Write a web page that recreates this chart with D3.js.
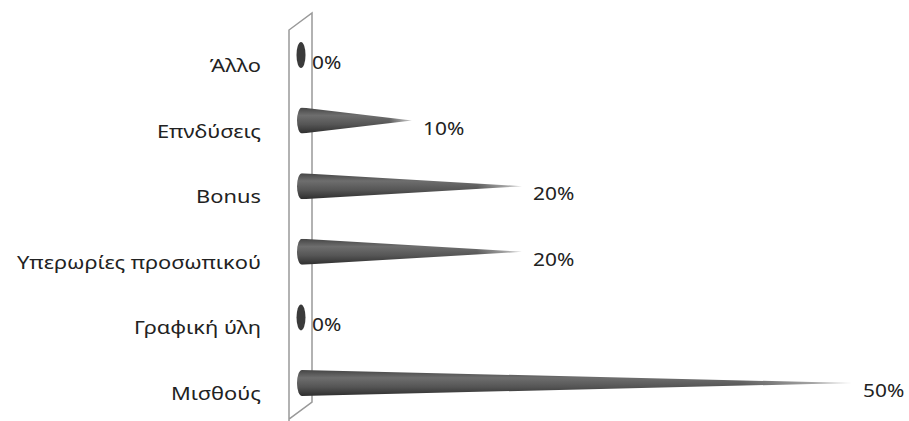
<!DOCTYPE html>
<html>
<head>
<meta charset="utf-8">
<script src="https://cdn.jsdelivr.net/npm/d3@7"></script>
<style>
  html, body { margin: 0; padding: 0; background: #fff; }
  text { font-family: "Noto Sans", "Open Sans", sans-serif; fill: #222; }
</style>
</head>
<body>
<svg id="chart"></svg>
<script>
// data, top to bottom as drawn
var categories = ["Άλλο", "Επνδύσεις", "Bonus", "Υπερωρίες προσωπικού", "Γραφική ύλη", "Μισθούς"];
var values = [0, 10, 20, 20, 0, 50];
var valueLabels = ["0%", "10%", "20%", "20%", "0%", "50%"];

var width = 909, height = 421;
var svg = d3.select("#chart").attr("width", width).attr("height", height);

var data = categories.map(function(c, i) { return {cat: c, v: values[i], label: valueLabels[i]}; });

// scales
var x = d3.scaleLinear().domain([0, 50]).range([302, 852]);
var y = d3.scalePoint().domain(categories).range([55, 383]);
var step = y.step();

var defs = svg.append("defs");

// vertical shading of the cones
var grad = defs.append("linearGradient")
    .attr("id", "coneGrad")
    .attr("x1", 0).attr("y1", 0).attr("x2", 0).attr("y2", 1);
grad.append("stop").attr("offset", "0%").attr("stop-color", "#454545");
grad.append("stop").attr("offset", "30%").attr("stop-color", "#6e6e6e");
grad.append("stop").attr("offset", "65%").attr("stop-color", "#555");
grad.append("stop").attr("offset", "100%").attr("stop-color", "#2e2e2e");

// fade toward the tip
var fade = defs.append("linearGradient")
    .attr("id", "fadeGrad")
    .attr("x1", 0).attr("y1", 0).attr("x2", 1).attr("y2", 0);
fade.append("stop").attr("offset", "0%").attr("stop-color", "#fff");
fade.append("stop").attr("offset", "80%").attr("stop-color", "#fff");
fade.append("stop").attr("offset", "100%").attr("stop-color", "#555");
defs.append("mask")
    .attr("id", "fadeMask")
    .attr("maskContentUnits", "objectBoundingBox")
  .append("rect")
    .attr("width", 1).attr("height", 1)
    .style("fill", "url(#fadeGrad)");

// back wall (3D frame)
var dx = 23, dy = 17;
var backX = x(0) + 10, frontX = backX - dx;
var backTop = y(categories[0]) - step * 0.64, backBot = y(categories[categories.length - 1]) + step * 0.29;
var wall = svg.append("g")
    .style("fill", "none")
    .style("stroke", "#999")
    .style("stroke-width", 1.5);
wall.append("path")
    .attr("d", "M" + frontX + "," + (backBot + dy + 4) + "V" + (backTop + dy) + "L" + backX + "," + backTop + "V" + backBot + "L" + frontX + "," + (backBot + dy));

// cones
var ry = 13, rx = 5;
var rows = svg.selectAll(".row")
    .data(data)
    .enter().append("g")
    .attr("class", "row");

rows.filter(function(d) { return d.v > 0; })
  .append("path")
    .attr("mask", "url(#fadeMask)")
    .style("fill", "url(#coneGrad)")
    .attr("d", function(d) {
      var cy = y(d.cat), bx = x(0);
      return "M" + x(d.v) + "," + cy +
             "L" + bx + "," + (cy - ry) +
             "A" + rx + "," + ry + " 0 0 0 " + bx + "," + (cy + ry) + "Z";
    });

rows.filter(function(d) { return d.v === 0; })
  .append("ellipse")
    .attr("cx", x(0) - 1)
    .attr("cy", function(d) { return y(d.cat); })
    .attr("rx", 4.5)
    .attr("ry", ry)
    .style("fill", "#3a3a3a");

// category labels
rows.append("text")
    .attr("transform", function(d) { return "translate(261," + (y(d.cat) + 17) + ") scale(1.15,1)"; })
    .attr("text-anchor", "end")
    .style("font-size", "19px")
    .text(function(d) { return d.cat; });

// value labels
rows.append("text")
    .attr("transform", function(d) { return "translate(" + (x(d.v) + (d.v > 0 ? 11 : 10)) + "," + (y(d.cat) + 14) + ") scale(1.1,1)"; })
    .style("font-size", "19px")
    .text(function(d) { return d.label; });
</script>
</body>
</html>
